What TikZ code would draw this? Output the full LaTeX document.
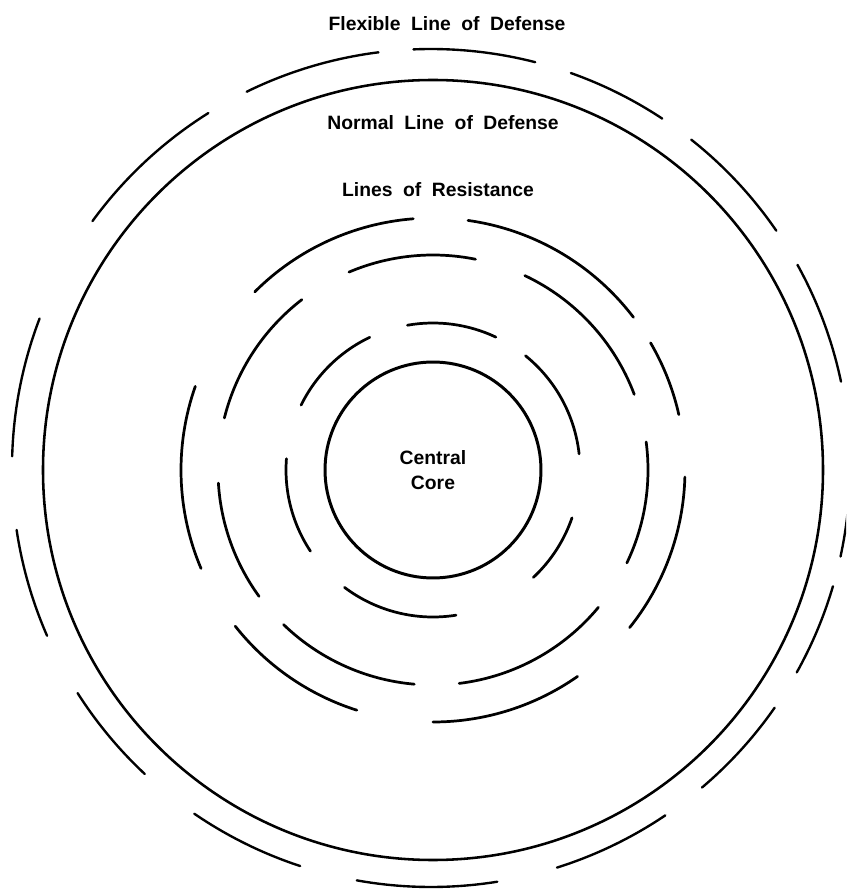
\documentclass[tikz,border=0pt]{standalone}
\usepackage{fontspec}
\setmainfont{Liberation Sans}
\usetikzlibrary{positioning}

\newcommand{\widespace}{\spaceskip=6pt\relax}

\tikzset{
    ring/.style={line width=1.55pt, line cap=round},
    linetext/.style={font=\bfseries\fontsize{11}{14}\selectfont\widespace, align=center, inner sep=1pt}
}

\begin{document}
\begin{tikzpicture}[x=0.02cm, y=0.02cm]
    \clip (-433,-425) rectangle (413,470);

    % Flexible line of defense (broken outer circle)
    \begin{scope}[shift={(-2,2)}]
    \foreach \a/\b in {11.9/29, -12.2/-2, -29.2/-16.4, -49.7/-34.9, -72.5/-56, -100.2/-80.9,
                       -124.4/-108.2, -147.5/-133.1, -171.5/-156.4, 159.1/178.4, 122.1/143.9,
                       97.2/116.1, 75.6/92.4, 56.5/70.5, 34.5/51.6} {
        \draw[ring, line width=1.35pt] (\a:419) arc[start angle=\a, end angle=\b, radius=419];
    }
    \end{scope}

    % Normal line of defense
    \draw[ring, line width=1.45pt] (0,0) circle[radius=390];

    % Lines of resistance
    \foreach \a/\b in {12.7/30.3, 37.3/82, 94.5/135, 160.6/203, 218.3/252.4, 270/305, 321.3/358.4} {
        \draw[ring] (\a:252) arc[start angle=\a, end angle=\b, radius=252];
    }
    \foreach \a/\b in {-25.6/7.5, 20.6/64.7, 78.6/113, 127.6/166, 183.5/216, 226/265, 277/320.3} {
        \draw[ring] (\a:215) arc[start angle=\a, end angle=\b, radius=215];
    }
    \foreach \a/\b in {6.3/51, 64.7/100, 115.5/153.8, 175.6/213.5, 233/279, 313/341} {
        \draw[ring] (\a:147) arc[start angle=\a, end angle=\b, radius=147];
    }

    % Central core
    \node[draw, circle, line width=1.7pt, minimum size=4.32cm, inner sep=0pt, linetext] (core) at (0,0) {Central\\Core};

    % Labels
    \node[linetext] (flexname) at (14,446) {Flexible Line of Defense};
    \node[linetext] (normalname) at (10,347) {Normal Line of Defense};
    \node[linetext] (resistname) at (5,280) {Lines of Resistance};
\end{tikzpicture}
\end{document}
